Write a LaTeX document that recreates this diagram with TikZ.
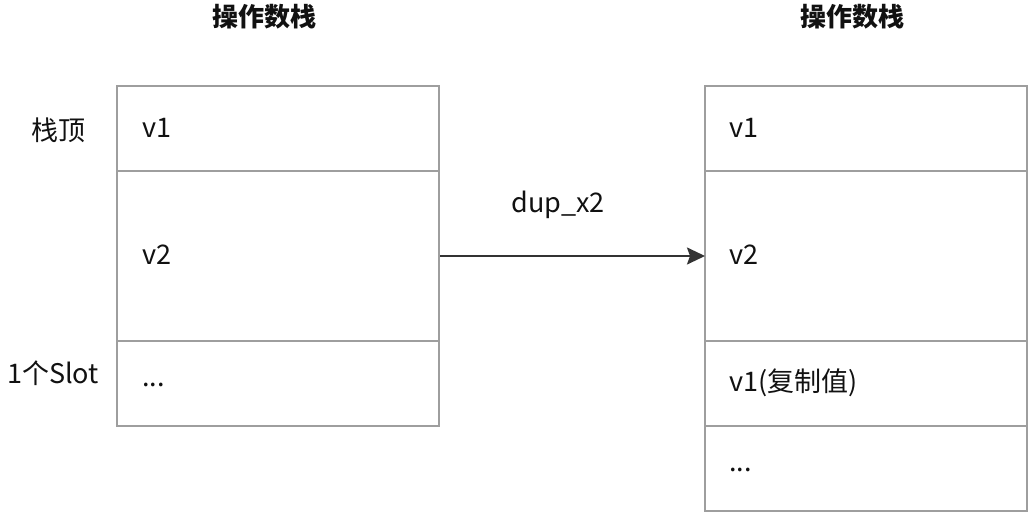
\documentclass[tikz,border=0pt]{standalone}
\usepackage{fontspec}
\setmainfont{Noto Sans CJK SC}
\usetikzlibrary{arrows.meta}
\definecolor{boxgray}{HTML}{9E9E9E}
\definecolor{ink}{HTML}{111111}
\definecolor{arrowc}{HTML}{333333}
\begin{document}
\begin{tikzpicture}[x=1pt,y=-1pt,
  cell/.style={draw=boxgray,line width=1.8pt,fill=white},
  celltext/.style={anchor=west,inner sep=0pt,font=\fontsize{27}{32}\selectfont,text=ink},
  lbl/.style={inner sep=0pt,font=\fontsize{27}{32}\selectfont,text=ink},
  ttl/.style={inner sep=0pt,font=\fontsize{26}{31}\selectfont\bfseries,text=ink}]
\useasboundingbox (0,0) rectangle (1029,519);
% left stack
\draw[cell] (117,86) rectangle (439,171);
\draw[cell] (117,171) rectangle (439,341);
\draw[cell] (117,341) rectangle (439,426);
\node[celltext] (lv1) at (142,128) {v1};
\node[celltext] (lv2) at (142,255) {v2};
\node[celltext] (ldots) at (142,385) {...};
% right stack
\draw[cell] (705,86) rectangle (1027,171);
\draw[cell] (705,171) rectangle (1027,341);
\draw[cell] (705,341) rectangle (1027,426);
\draw[cell] (705,426) rectangle (1027,511);
\node[celltext] (rv1) at (729,128) {v1};
\node[celltext] (rv2) at (729,255) {v2};
\node[celltext] (rv3) at (729,383) {v1(复制值)};
\node[celltext] (rdots) at (729,470) {...};
% titles and labels
\node[ttl] (tl) at (264,17) {操作数栈};
\node[ttl] (tr) at (852,17) {操作数栈};
\node[lbl] (top) at (58,130) {栈顶};
\node[lbl] (slot) at (53,373) {1个Slot};
% arrow
\coordinate (a0) at (440,256);
\coordinate (a1) at (705,256);
\draw[arrowc,line width=2pt,-{Stealth[length=18pt,width=17pt,inset=3pt]}] (a0) -- (a1);
\node[lbl] (op) at (558,205) {dup\_x2};
\end{tikzpicture}
\end{document}
